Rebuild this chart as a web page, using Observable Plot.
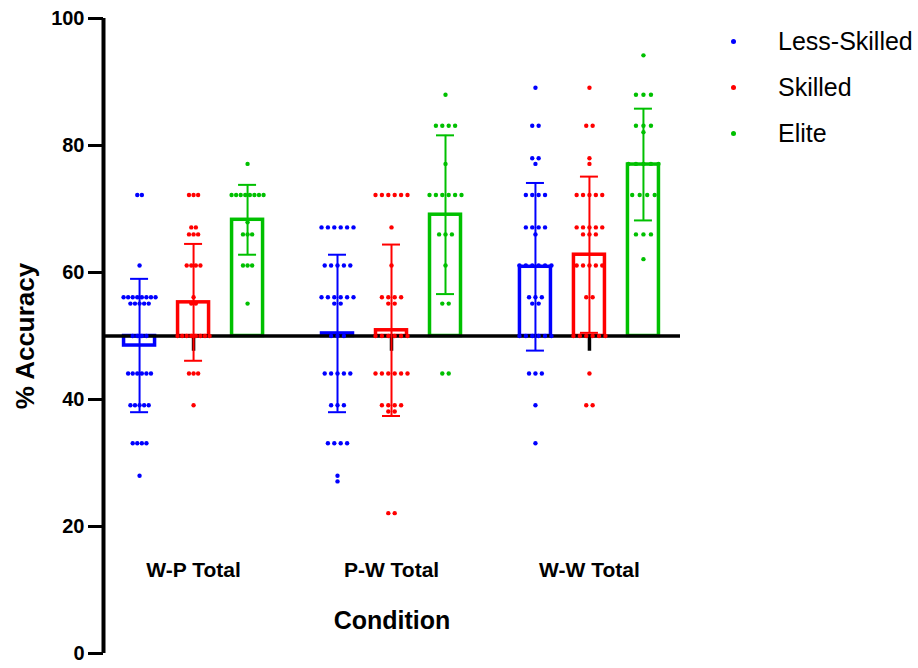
<!DOCTYPE html>
<html><head><meta charset="utf-8">
<script src="https://cdn.jsdelivr.net/npm/d3@7"></script>
<script src="https://cdn.jsdelivr.net/npm/@observablehq/plot@0.6"></script>
<style>
body{margin:0;background:#fff;font-family:"Liberation Sans",Arial,sans-serif;}
#wrap{position:relative;width:918px;height:668px;overflow:hidden;}
.lg-dot{position:absolute;width:5px;height:5px;border-radius:50%;}
.lg-txt{position:absolute;font-size:25px;line-height:25px;color:#000;white-space:nowrap;}
</style></head><body><div id="wrap"></div>
<script>
// ---- data ----
const conditions = ["W-P Total", "P-W Total", "W-W Total"];
const groups = ["Less-Skilled", "Skilled", "Elite"];
const groupColors = ["#0000ff", "#ff0000", "#00c000"];
const yTicks = [0, 20, 40, 60, 80, 100];
const baseline = 50;

const meanLess    = [48.5, 50.4, 60.9];
const meanSkilled = [55.3, 50.9, 62.8];
const meanElite   = [68.3, 69.1, 77.0];
const sdLess      = [10.5, 12.4, 13.2];
const sdSkilled   = [9.2, 13.5, 12.3];
const sdElite     = [5.5, 12.5, 8.8];
const stubBottom  = [47.6, 47.6, 47.6]; // black stubs below baseline under Skilled bars

const lessWP = [72.2,72.2,61.1,56.1,56.1,56.1,56.1,56.1,56.1,56.1,56.1,55.1,55.1,55.1,55.1,55.1,50,50,50,50,44.1,44.1,44.1,44.1,44.1,44.1,39.1,39.1,39.1,39.1,39.1,33.1,33.1,33.1,33.1,28];
const skilledWP = [72.2,72.2,72.2,67.1,67.1,66.0,66.0,66.0,61.1,61.1,61.1,61.1,56.1,55.1,55.1,50,50,50,50,50,50,50,50,44.1,44.1,44.1,39.1];
const eliteWP = [77.1,72.2,72.2,72.2,72.2,72.2,72.2,72.2,72.2,67.9,66.0,66.0,66.0,61.1,61.1,61.1,55.1];
const lessPW = [67.1,67.1,67.1,67.1,67.1,67.1,61.1,61.1,61.1,61.1,61.1,56.1,56.1,56.1,56.1,56.1,56.1,55.1,55.1,50,50,50,44.1,44.1,44.1,44.1,44.1,39.1,39.1,39.1,33.1,33.1,33.1,33.1,28,27.1];
const skilledPW = [72.2,72.2,72.2,72.2,72.2,72.2,67.1,61.1,56.1,56.1,56.1,56.1,55.1,55.1,50,50,50,50,50,50,44.1,44.1,44.1,44.1,44.1,44.1,39.1,39.1,39.1,39.1,38.1,38.1,22.1,22.1];
const elitePW = [88,83.1,83.1,83.1,83.1,77.1,72.2,72.2,72.2,72.2,72.2,72.2,66.0,66.0,66.0,61.1,55.1,55.1,44.1,44.1];
const lessWW = [89.1,83.1,83.1,78,78,77.1,72.2,72.2,72.2,72.2,67.1,67.1,67.1,67.1,66.0,61.1,61.1,61.1,61.1,61.1,61.1,56.1,56.1,56.1,55.1,55.1,50,50,50,50,50,50,44.1,44.1,44.1,39.1,33.1];
const skilledWW = [89.1,83.1,83.1,78,77.1,72.2,72.2,72.2,72.2,72.2,67.1,67.1,67.1,67.1,67.1,66.0,66.0,66.0,61.1,61.1,61.1,61.1,61.1,56.1,56.1,50,50,50,50,50,50,44.1,39.1,39.1];
const eliteWW = [94.2,88,88,88,83.1,83.1,83.1,82.1,77.1,77.1,77.1,77.1,77.1,72.2,72.2,72.2,72.2,66.0,66.0,66.0,62.1];

// ---- layout ----
const W = 918, H = 668, mL = 103, mR = 238, mT = 18, mB = 15;
const xDomain = [-0.455, 2.46];
const pxPerUnit = (W - mL - mR) / (xDomain[1] - xDomain[0]);
const groupStep = 54 / pxPerUnit;
const barHalf = 15.5 / pxPerUnit;
const capHalf = 9 / pxPerUnit;

const meansByGroup = [meanLess, meanSkilled, meanElite];
const sdsByGroup = [sdLess, sdSkilled, sdElite];
const pointsByGroup = [[lessWP, lessPW, lessWW], [skilledWP, skilledPW, skilledWW], [eliteWP, elitePW, eliteWW]];

const pos = (ci, gi) => ci + (gi - 1) * groupStep;

const stats = [];
groups.forEach((g, gi) => conditions.forEach((c, ci) => {
  stats.push({group: g, ci, gi, pos: pos(ci, gi), mean: meansByGroup[gi][ci], sd: sdsByGroup[gi][ci]});
}));
const stubs = conditions.map((c, ci) => ({pos: pos(ci, 1), bottom: stubBottom[ci]}));

const points = [];
groups.forEach((g, gi) => conditions.forEach((c, ci) => {
  const vals = pointsByGroup[gi][ci];
  const rows = d3.group(vals, v => v);
  const maxRow = d3.max(Array.from(rows.values(), r => r.length));
  const spacing = Math.min(7.5, 32 / Math.max(1, maxRow - 1));
  for (const [v, r] of rows) {
    const n = r.length;
    r.forEach((_, k) => points.push({group: g, value: v, x: pos(ci, gi) + (k - (n - 1) / 2) * spacing / pxPerUnit}));
  }
}));

const chart = Plot.plot({
  width: W, height: H,
  marginLeft: mL, marginRight: mR, marginTop: mT, marginBottom: mB,
  style: {fontFamily: "'Liberation Sans', Arial, sans-serif", color: "#000", background: "#fff", overflow: "visible"},
  x: {domain: xDomain},
  y: {domain: [0, 100]},
  color: {domain: groups, range: groupColors},
  marks: [
    Plot.rect(stats, {x1: d => d.pos - barHalf, x2: d => d.pos + barHalf, y1: baseline, y2: "mean", stroke: "group", fill: "none", strokeWidth: 3.5}),
    Plot.ruleY([baseline], {stroke: "#000", strokeWidth: 3.5}),
    Plot.ruleX(stubs, {x: "pos", y1: baseline, y2: "bottom", stroke: "#000", strokeWidth: 3.5}),
    Plot.ruleX(stats, {x: "pos", y1: d => d.mean - d.sd, y2: d => d.mean + d.sd, stroke: "group", strokeWidth: 2}),
    Plot.ruleY(stats, {y: d => d.mean + d.sd, x1: d => d.pos - capHalf, x2: d => d.pos + capHalf, stroke: "group", strokeWidth: 2}),
    Plot.ruleY(stats, {y: d => d.mean - d.sd, x1: d => d.pos - capHalf, x2: d => d.pos + capHalf, stroke: "group", strokeWidth: 2}),
    Plot.dot(points, {x: "x", y: "value", r: 2.2, fill: "group", stroke: null}),
    Plot.ruleX([xDomain[0]], {stroke: "#000", strokeWidth: 4}),
    Plot.axisY({ticks: yTicks, tickSize: 15, tickPadding: 4, strokeWidth: 3, fontSize: 20, fontWeight: "bold", label: null}),
    Plot.axisX({ticks: [0, 1, 2], tickFormat: i => conditions[i], tickSize: 0, tickPadding: 0, dy: -91, fontSize: 21, fontWeight: "bold", label: null}),
    Plot.text(["Condition"], {frameAnchor: "bottom", dy: -25, fontSize: 25, fontWeight: "bold"}),
    Plot.text(["% Accuracy"], {frameAnchor: "left", rotate: -90, textAnchor: "middle", dx: -78, fontSize: 26, fontWeight: "bold"})
  ]
});
const wrap = document.getElementById("wrap");
wrap.appendChild(chart);

// legend
const legendY = [41, 87, 133];
groups.forEach((g, i) => {
  const dot = document.createElement("div");
  dot.className = "lg-dot";
  dot.style.background = groupColors[i];
  dot.style.left = (733 - 2.5) + "px";
  dot.style.top = (legendY[i] - 2.5) + "px";
  wrap.appendChild(dot);
  const t = document.createElement("div");
  t.className = "lg-txt";
  t.textContent = g;
  t.style.left = "778px";
  t.style.top = (legendY[i] - 12.5) + "px";
  wrap.appendChild(t);
});
</script></body></html>
